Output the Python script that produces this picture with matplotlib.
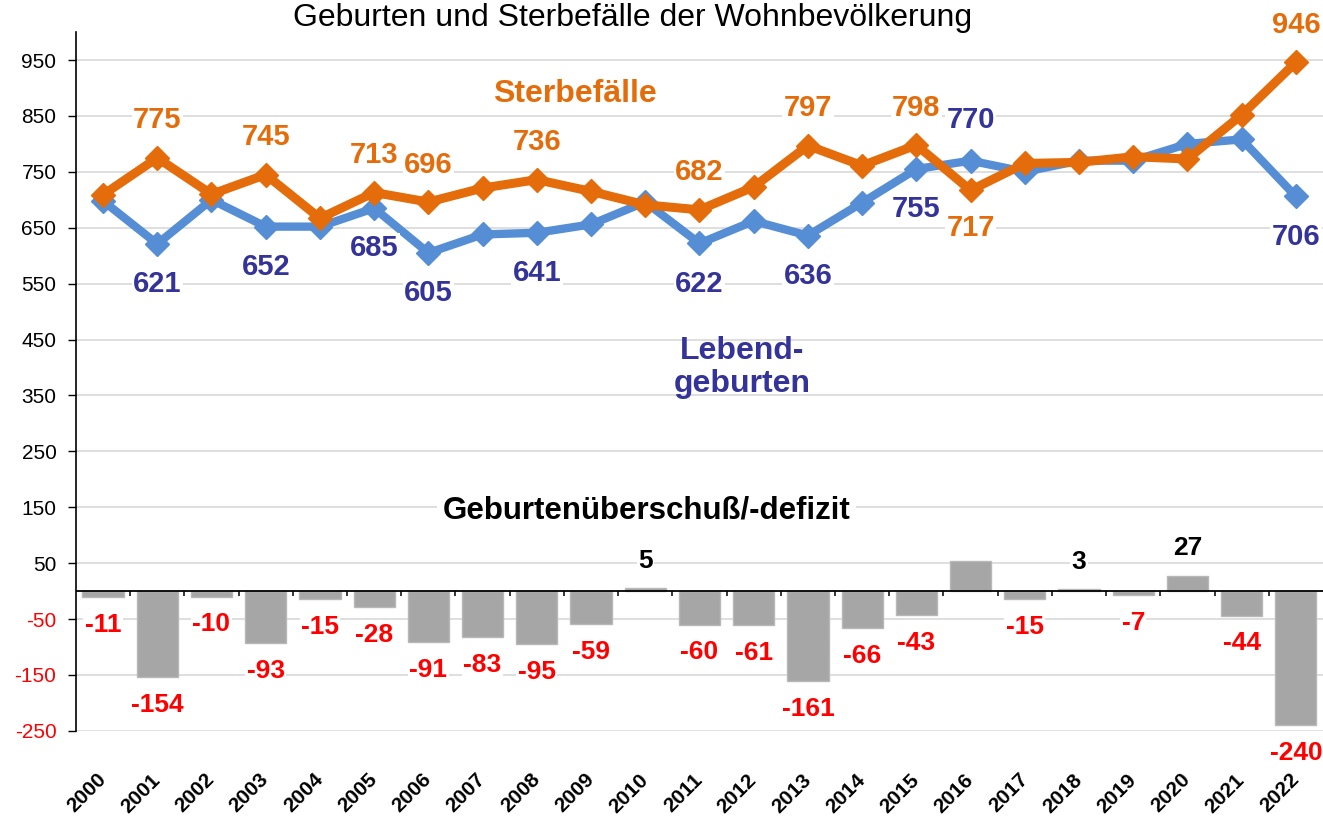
import matplotlib
matplotlib.use('Agg')
import matplotlib.pyplot as plt
import numpy as np

plt.rcParams['font.family'] = ['Liberation Sans', 'DejaVu Sans']
plt.rcParams['axes.unicode_minus'] = False

years = [str(y) for y in range(2000, 2023)]
births = [698, 621, 700, 652, 652, 685, 605, 638, 641, 656, 696, 622, 662,
          636, 695, 755, 770, 750, 770, 770, 800, 808, 706]
deaths = [709, 775, 710, 745, 667, 713, 696, 721, 736, 715, 691, 682, 723,
          797, 761, 798, 717, 765, 767, 777, 773, 852, 946]
balance = [-11, -154, -10, -93, -15, -28, -91, -83, -95, -59, 5, -60, -61,
           -161, -66, -43, 53, -15, 3, -7, 27, -44, -240]

# which points get a label, and on which side (+1 above, -1 below)
death_labels = {1: 1, 3: 1, 5: 1, 6: 1, 8: 1, 11: 1, 13: 1, 15: 1, 16: -1, 22: 1}
birth_labels = {1: -1, 3: -1, 5: -1, 6: -1, 8: -1, 11: -1, 13: -1, 15: -1, 16: 1, 22: -1}
bar_skip = {16}

orange = '#E46C0A'
blue_line = '#558ED5'
blue_text = '#333399'
red = '#FF0000'
grey = '#A6A6A6'

fig = plt.figure(figsize=(13.23, 8.23), dpi=100)
ax = fig.add_axes([0.0574, 0.112, 0.9426, 0.849])
x = np.arange(len(years))

ax.set_xlim(-0.5, len(years) - 0.5)
ax.set_ylim(-250, 1000)
ax.set_yticks(np.arange(-250, 1000, 100))
ax.grid(axis='y', color='#D9D9D9', linewidth=1.2, zorder=0)
ax.set_axisbelow(True)

ax.bar(x, balance, width=0.76, color=grey, edgecolor='#B8B8B8', zorder=2)

ax.plot(x, births, color=blue_line, linewidth=6, marker='D', markersize=12,
        zorder=3)
ax.plot(x, deaths, color=orange, linewidth=6.5, marker='D', markersize=12,
        zorder=4)

box = dict(facecolor='white', edgecolor='none', pad=1)
for i, side in death_labels.items():
    ax.annotate(str(deaths[i]), (x[i], deaths[i]), xytext=(0, 27 * side),
                textcoords='offset points', ha='center', va='center',
                fontsize=21, fontweight='bold', color=orange, bbox=box, zorder=6)
for i, side in birth_labels.items():
    ax.annotate(str(births[i]), (x[i], births[i]), xytext=(0, 29 * side),
                textcoords='offset points', ha='center', va='center',
                fontsize=21, fontweight='bold', color=blue_text, bbox=box, zorder=5)

for i, v in enumerate(balance):
    if i in bar_skip:
        continue
    side = 1 if v > 0 else -1
    ax.annotate(str(v), (x[i], v), xytext=(0, 20 * side),
                textcoords='offset points', ha='center', va='center',
                fontsize=19, fontweight='bold',
                color='black' if v > 0 else red, bbox=box, zorder=5)

# zero line with category separators
ax.axhline(0, color='black', linewidth=1.3, zorder=3)
ax.vlines(x[:-1] + 0.5, -8, 0, color='black', linewidth=1.1, zorder=3)

ax.text(8.7, 889, 'Sterbefälle', color=orange, fontsize=23, fontweight='bold',
        ha='center', va='center', zorder=6)
ax.text(11.79, 400, 'Lebend-\ngeburten', color=blue_text, fontsize=23,
        fontweight='bold', ha='center', va='center', linespacing=1.1, zorder=6)
ax.text(10.03, 145, 'Geburtenüberschuß/-defizit', color='black', fontsize=22.5,
        fontweight='bold', ha='center', va='center', bbox=dict(facecolor='white',
        edgecolor='none', pad=4), zorder=6)

fig.text(0.478, 0.978, 'Geburten und Sterbefälle der Wohnbevölkerung',
         fontsize=23, ha='center', va='center')

ax.set_xticks(x)
ax.set_xticklabels(years, rotation=45, ha='right', va='center',
                   rotation_mode='anchor', fontsize=15, fontweight='bold')
ax.tick_params(axis='x', length=0, pad=33)
ax.tick_params(axis='y', labelsize=15, length=6, width=1, direction='out', pad=8)
for lbl, val in zip(ax.get_yticklabels(), ax.get_yticks()):
    if val < 0:
        lbl.set_color(red)

for s in ['top', 'right', 'bottom']:
    ax.spines[s].set_visible(False)
ax.spines['left'].set_linewidth(1.2)

plt.savefig('out.png', dpi=100)
plt.close(fig)
